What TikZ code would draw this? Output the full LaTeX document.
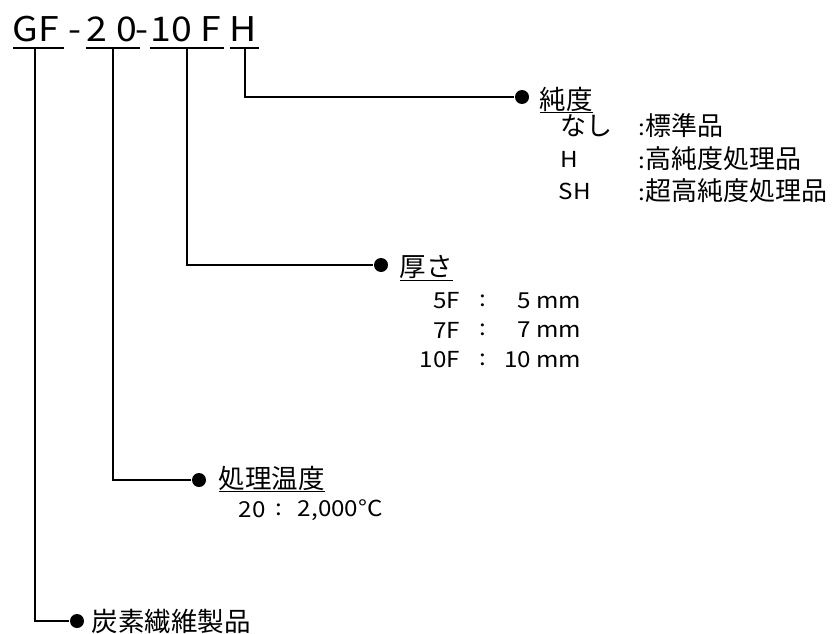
\documentclass[tikz,border=0pt]{standalone}
\usepackage{fontspec}
\setmainfont{Noto Sans CJK JP}
\newfontfamily\latinfont{Noto Sans CJK JP}[FakeStretch=1.1]
\newcommand{\ltxt}[1]{{\fontsize{22}{26}\latinfont #1}}
\usetikzlibrary{calc}

\tikzset{
	jdot/.style={circle, fill=black, inner sep=0pt, minimum size=14pt},
	code/.style={inner sep=0pt, anchor=base west, font=\fontsize{34}{40}\latinfont},
	head/.style={inner sep=0pt, anchor=west, font=\fontsize{26.5}{30}\selectfont},
	item/.style={inner sep=0pt, font=\fontsize{26}{30}\selectfont},
}

\begin{document}
\begin{tikzpicture}[x=1pt, y=-1pt, line width=1.8pt]
	\useasboundingbox (0,0) rectangle (840,634);

	% product code
	\node[code] (cGF) at (12,42){GF};
	\node[code] (dA) at (68,42){-};
	\node[code] (c2) at (86,42){2};
	\node[code] (c0) at (116,42){0};
	\node[code] (dB) at (135,42){-};
	\node[code] (c10) at (150,42){10};
	\node[code] (cF) at (200,42){F};
	\node[code] (cH) at (229,42){H};

	\draw ([shift={(1,6)}]cGF.base west) -- ([shift={(4,6)}]cGF.base east);
	\draw ([shift={(0,6)}]c2.base west) -- ([shift={(1,6)}]c0.base east);
	\draw ([shift={(0,6)}]c10.base west) -- ([shift={(2,6)}]cF.base east);
	\draw ([shift={(1,6)}]cH.base west) -- ([shift={(1,6)}]cH.base east);

	\coordinate (uGF) at (35,48);
	\coordinate (uT) at (113,48);
	\coordinate (uTF) at (187,48);
	\coordinate (uH) at (245,48);

	% dots
	\node[jdot] (pH) at (522,97){};
	\node[jdot] (pTF) at (381,265){};
	\node[jdot] (pT) at (199,480){};
	\node[jdot] (pGF) at (77,621){};

	\draw (uH) |- (pH);
	\draw (uTF) |- (pTF);
	\draw (uT) |- (pT);
	\draw (uGF) |- (pGF);

	% purity
	\node[head] (hH) at (539,100){\underline{純度}};
	\node[item, anchor=west] (h1) at (560,126){なし};
	\node[item, anchor=west] (h1v) at (638,126){\ltxt{:}標準品};
	\node[item, anchor=west] (h2) at (560,159){\ltxt{H}};
	\node[item, anchor=west] (h2v) at (638,159){\ltxt{:}高純度処理品};
	\node[item, anchor=west] (h3) at (558,191){\ltxt{SH}};
	\node[item, anchor=west] (h3v) at (638,191){\ltxt{:}超高純度処理品};

	% thickness
	\node[head] (hTF) at (399,268){\underline{厚さ}};
	\node[item, anchor=east] (t1) at (461,301){\ltxt{5F}};
	\node[item] (t1c) at (483,301){\ltxt{:}};
	\node[item, anchor=east] (t1v) at (582,301){\ltxt{5 mm}};
	\node[item, anchor=east] (t2) at (461,330){\ltxt{7F}};
	\node[item] (t2c) at (483,330){\ltxt{:}};
	\node[item, anchor=east] (t2v) at (582,330){\ltxt{7 mm}};
	\node[item, anchor=east] (t3) at (461,360){\ltxt{10F}};
	\node[item] (t3c) at (483,360){\ltxt{:}};
	\node[item, anchor=east] (t3v) at (582,360){\ltxt{10 mm}};

	% temperature
	\node[head] (hT) at (218,479){\underline{処理温度}};
	\node[item, anchor=west] (r1) at (238,510){\ltxt{20}};
	\node[item] (r1c) at (279,510){\ltxt{:}};
	\node[item, anchor=west] (r1v) at (297,510){\ltxt{2,000°C}};

	% product
	\node[head] (hGF) at (91,621){炭素繊維製品};
\end{tikzpicture}
\end{document}
